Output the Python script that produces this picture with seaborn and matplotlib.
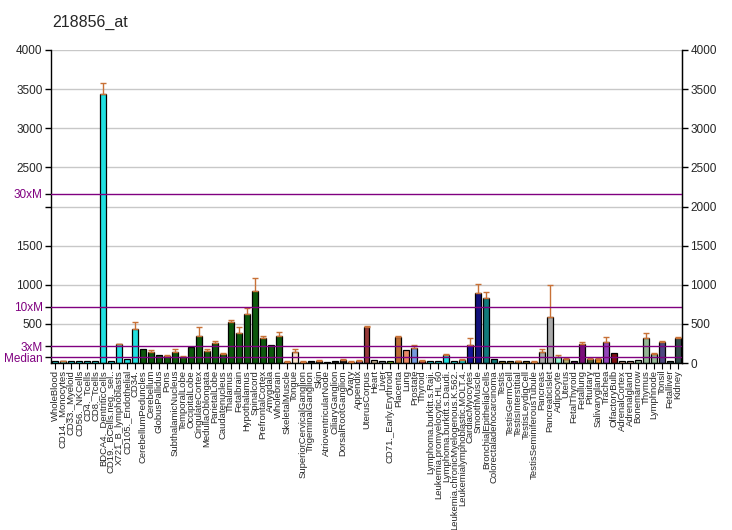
import matplotlib
matplotlib.use("Agg")
import matplotlib.pyplot as plt
import seaborn as sns
import numpy as np
import pandas as pd

sns.set_style("white")
plt.rcParams['font.family'] = ['Liberation Sans', 'DejaVu Sans']

categories = [
    "WholeBlood", "CD14._Monocytes", "CD33._Myeloid", "CD56._NKCells", "CD4._Tcells",
    "CD8._Tcells", "BDCA4._DentriticCells", "CD19._BCells.neg._sel..", "X721_B_lymphoblasts",
    "CD105._Endothelial", "CD34.", "CerebellumPeduncles", "Cerebellum", "GlobusPallidus",
    "Pons", "SubthalamicNucleus", "TemporalLobe", "OccipitalLobe", "CingulateCortex",
    "MedullaOblongata", "ParietalLobe", "Caudatenucleus", "Thalamus", "Fetalbrain",
    "Hypothalamus", "Spinalcord", "PrefrontalCortex", "Amygdala", "Wholebrain",
    "SkeletalMuscle", "Tongue", "SuperiorCervicalGanglion", "TrigeminalGanglion", "Skin",
    "AtrioventricularNode", "CiliaryGanglion", "DorsalRootGanglion", "Ovary", "Appendix",
    "UterusCorpus", "Heart", "Liver", "CD71._Early.Erythroid", "Placenta", "Lung",
    "Prostate", "Thyroid", "Lymphoma.burkitt.s.Raji.", "Leukemia.promyelocytic.HL.60",
    "Lymphoma.burkitt.s.Daudi.", "Leukemia.chronicMyelogenous.K.562.",
    "Leukemialymphoblastic.MOLT.4.", "CardiacMyocytes", "SmoothMuscle",
    "BronchialEpithelialCells", "Colorectaladenocarcinoma", "Testis", "TestisGermCell",
    "TestisInterstitial", "TestisLeydigCell", "TestisSeminiferousTubule", "Pancreas",
    "PancreaticIslet", "Adipocyte", "Uterus", "FetalThyroid", "Fetallung", "Pituitary",
    "Salivarygland", "Trachea", "OlfactoryBulb", "AdrenalCortex", "Adrenalgland",
    "Bonemarrow", "Thymus", "Lymphnode", "Tonsil", "Fetalliver", "Kidney",
]

values = [
    20, 20, 20, 20, 20, 20, 3434, 20, 243, 47,
    434, 179, 136, 98, 85, 136, 77, 204, 345, 153,
    256, 115, 524, 383, 626, 920, 319, 230, 345, 13,
    144, 17, 29, 29, 13, 29, 42, 17, 29, 463,
    42, 29, 25, 336, 170, 196, 29, 21, 21, 102,
    25, 42, 230, 898, 834, 47, 25, 25, 25, 25,
    13, 141, 590, 73, 51, 26, 244, 51, 51, 269,
    128, 26, 26, 38, 320, 115, 269, 26, 320,
]

errors = [
    0, 8, 0, 0, 0, 0, 141, 0, 6, 0,
    86, 0, 29, 0, 13, 43, 8, 0, 115, 26,
    25, 13, 26, 77, 77, 166, 26, 0, 51, 8,
    31, 6, 0, 9, 0, 0, 13, 12, 13, 13,
    0, 0, 0, 13, 0, 34, 13, 0, 0, 13,
    0, 13, 93, 108, 69, 0, 0, 0, 4, 0,
    12, 39, 410, 25, 13, 0, 25, 13, 13, 64,
    0, 0, 0, 0, 65, 13, 13, 0, 13,
]

colors = (
    ["#00FFFF"] * 11 + ["#006400"] * 19 +
    ["#FFE4C4", "#3B2A10", "#1A1A1A", "#1A1A1A", "#1A1A1A", "#1A1A1A", "#1A1A1A", "#1A1A1A",
     "#9933CC", "#A52A2A", "#D2B48C", "#708090", "#7CFC00", "#D2691E", "#FF7F50",
     "#6495ED", "#DC143C"] +
    ["#00FFFF"] * 5 +
    ["#0000AA", "#00008B", "#008B8B", "#008B8B"] +
    ["#B8860B"] * 5 +
    ["#A9A9A9", "#A9A9A9", "#7FFFD4", "#BDB76B", "#800080", "#8B008B", "#556B2F",
     "#FF8C00", "#9932CC", "#8B0000", "#E9967A", "#E9967A", "#8FBC8F", "#8FBC8F",
     "#8FBC8F", "#483D8B", "#2F4F4F", "#2F4F4F"]
)

median = 72
ref_lines = [("Median", median), ("3xM", 3 * median), ("10xM", 10 * median), ("30xM", 30 * median)]
left_ticks = [500, 1000, 1500, 2500, 3000, 3500, 4000]
right_ticks = [0, 500, 1000, 1500, 2000, 2500, 3000, 3500, 4000]

df = pd.DataFrame({"tissue": categories, "value": values, "err": errors})

fig = plt.figure(figsize=(7.32, 5.30), dpi=100)
ax = fig.add_axes([51 / 732, 1 - 363 / 530, (682 - 51) / 732, (363 - 50) / 530])

sns.barplot(data=df, x="tissue", y="value", hue="tissue", palette=colors, legend=False,
            edgecolor="black", linewidth=0.9, width=0.75, dodge=False, errorbar=None, ax=ax)

for y in range(500, 4001, 500):
    ax.axhline(y, color="#C8C8C8", lw=1, zorder=0)

x = np.arange(len(categories))
err = np.array(errors, dtype=float)
mask = err > 0
ax.errorbar(x[mask], np.array(values)[mask], yerr=[np.zeros(mask.sum()), err[mask]],
            fmt="none", ecolor="#C87137", elinewidth=1, capsize=2.5, capthick=1, zorder=3)

for name, yv in ref_lines:
    ax.axhline(yv, color="#800080", lw=1, zorder=4)

ax.set_xlim(-0.5, len(categories) - 0.5)
ax.set_ylim(0, 4000)
ax.set_yticks(left_ticks + [2000] + [v for _, v in ref_lines])
ax.set_yticklabels([str(t) for t in left_ticks] + [""] + [n for n, _ in ref_lines], fontsize=8.5)
for lbl, (n, _) in zip(ax.get_yticklabels()[-4:], ref_lines):
    lbl.set_color("#800080")
ax.tick_params(axis="y", direction="out", length=4, width=1, color="black", pad=2, left=True)
ax.set_xticks(x)
ax.set_xticklabels(categories, rotation=90, fontsize=6.8)
ax.tick_params(axis="x", direction="out", length=4, width=0.8, color="black", pad=1, bottom=True)
ax.set_xlabel("")
ax.set_ylabel("")
for s in ["left", "right", "bottom"]:
    ax.spines[s].set_color("black")
    ax.spines[s].set_linewidth(1)
ax.spines["top"].set_visible(False)

ax2 = ax.twinx()
ax2.set_ylim(0, 4000)
ax2.set_yticks(right_ticks)
ax2.set_yticklabels([str(t) for t in right_ticks], fontsize=8.5)
ax2.tick_params(axis="y", direction="out", length=4, width=1, color="black", pad=2, right=True)
ax2.spines["top"].set_visible(False)
ax2.spines["right"].set_color("black")
for s in ["left", "bottom"]:
    ax2.spines[s].set_visible(False)

fig.text(52 / 732, 1 - 22 / 530, "218856_at", fontsize=11.5, ha="left", va="center")

fig.savefig("out.png", dpi=100)
